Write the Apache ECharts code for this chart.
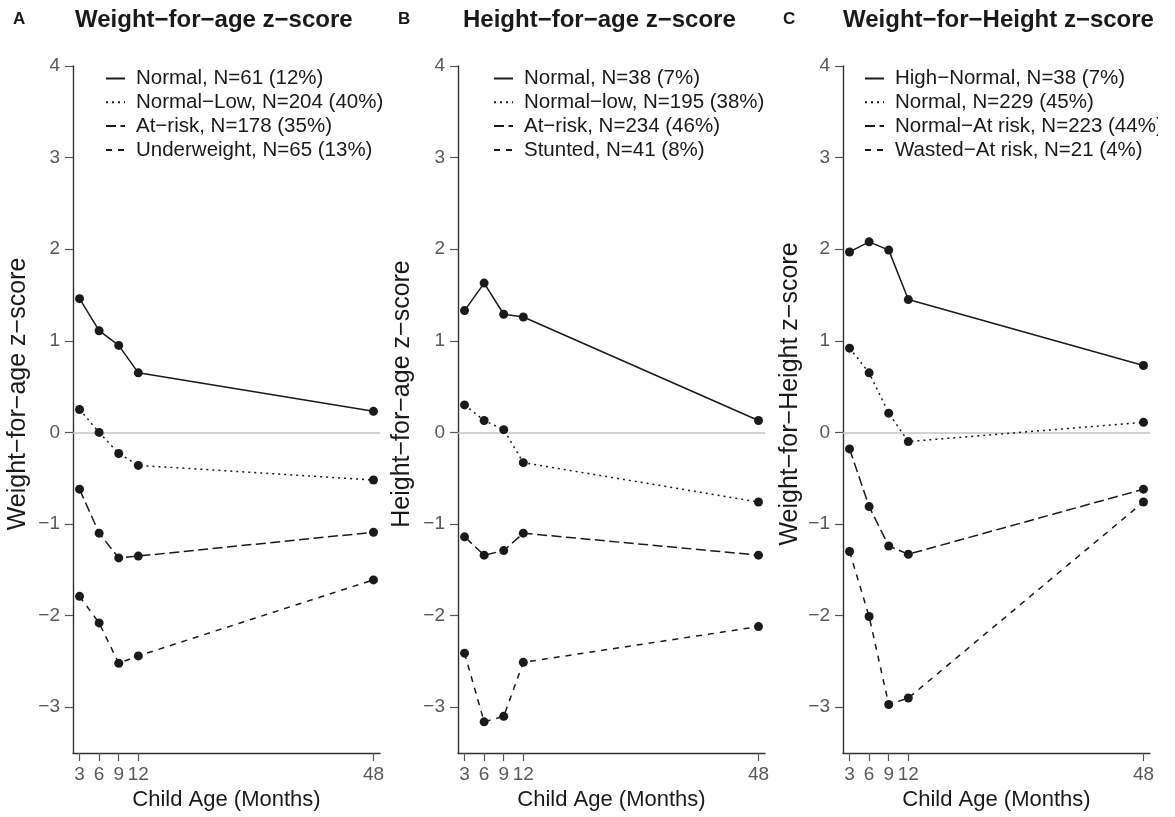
<!DOCTYPE html>
<html>
<head>
<meta charset="utf-8">
<script src="https://cdn.jsdelivr.net/npm/echarts@6/dist/echarts.min.js"></script>
<style>
html,body{margin:0;padding:0;background:#fff;}
#c{width:1158px;height:817px;}
</style>
</head>
<body>
<div id="c"></div>
<script>
// ---- data ----
const months = [3, 6, 9, 12, 48];
const xTicks = [3, 6, 9, 12, 48];
const yTicks = [-3, -2, -1, 0, 1, 2, 3, 4];

const panelLetters = ['A', 'B', 'C'];
const panelTitles = ['Weight\u2212for\u2212age z\u2212score', 'Height\u2212for\u2212age z\u2212score', 'Weight\u2212for\u2212Height z\u2212score'];
const yTitles = ['Weight\u2212for\u2212age z\u2212score', 'Height\u2212for\u2212age z\u2212score', 'Weight\u2212for\u2212Height z\u2212score'];
const xTitle = 'Child Age (Months)';

const namesA = ['Normal, N=61 (12%)', 'Normal\u2212Low, N=204 (40%)', 'At\u2212risk, N=178 (35%)', 'Underweight, N=65 (13%)'];
const namesB = ['Normal, N=38 (7%)', 'Normal\u2212low, N=195 (38%)', 'At\u2212risk, N=234 (46%)', 'Stunted, N=41 (8%)'];
const namesC = ['High\u2212Normal, N=38 (7%)', 'Normal, N=229 (45%)', 'Normal\u2212At risk, N=223 (44%)', 'Wasted\u2212At risk, N=21 (4%)'];

const wazNormal    = [1.46, 1.11, 0.95, 0.65, 0.23];
const wazNormalLow = [0.25, 0.00, -0.23, -0.36, -0.52];
const wazAtRisk    = [-0.62, -1.10, -1.37, -1.35, -1.09];
const wazUnder     = [-1.79, -2.08, -2.52, -2.44, -1.61];

const hazNormal    = [1.33, 1.63, 1.29, 1.26, 0.13];
const hazNormalLow = [0.30, 0.13, 0.03, -0.33, -0.76];
const hazAtRisk    = [-1.14, -1.34, -1.29, -1.10, -1.34];
const hazStunted   = [-2.41, -3.16, -3.10, -2.51, -2.12];

const whzHighNormal = [1.97, 2.08, 1.99, 1.45, 0.73];
const whzNormal     = [0.92, 0.65, 0.21, -0.10, 0.11];
const whzNormalAt   = [-0.18, -0.81, -1.24, -1.33, -0.62];
const whzWasted     = [-1.30, -2.01, -2.97, -2.90, -0.76];

const panelNames = [namesA, namesB, namesC];
const panelData = [
  [wazNormal, wazNormalLow, wazAtRisk, wazUnder],
  [hazNormal, hazNormalLow, hazAtRisk, hazStunted],
  [whzHighNormal, whzNormal, whzNormalAt, whzWasted]
];

// ---- styles ----
const FONT = '"Liberation Sans", Arial, Helvetica, sans-serif';
const INK = '#1a1a1a';
const dashes = ['solid', [2, 4], [10, 4.5], [6, 6]];
const gridLefts = [73, 458, 843];
const gridTop = 66, gridH = 687, gridW = 307;
const legendLefts = [105, 493, 864];
const letterLefts = [13, 398, 783];
const titleLefts = [75, 463, 843];
const yTitleX = [18, 402, 790];

const grid = [], xAxis = [], yAxis = [], series = [], legend = [], title = [], graphic = [];

for (let p = 0; p < 3; p++) {
  grid.push({left: gridLefts[p], top: gridTop, width: gridW, height: gridH, containLabel: false});
  xAxis.push({
    type: 'value', gridIndex: p, min: 2, max: 49,
    name: xTitle, nameLocation: 'middle', nameGap: 35,
    nameTextStyle: {fontFamily: FONT, fontSize: 22, color: INK},
    axisLine: {show: true, onZero: false, lineStyle: {color: '#333', width: 1.4}},
    axisTick: {show: true, length: 8, customValues: xTicks, lineStyle: {color: '#555', width: 1.2}},
    axisLabel: {customValues: xTicks, margin: 12, fontFamily: FONT, fontSize: 19, color: '#595959', hideOverlap: false},
    splitLine: {show: false}
  });
  yAxis.push({
    type: 'value', gridIndex: p, min: -3.5, max: 4,
    axisLine: {show: true, onZero: false, lineStyle: {color: '#333', width: 1.4}},
    axisTick: {show: true, length: 8, customValues: yTicks, lineStyle: {color: '#555', width: 1.2}},
    axisLabel: {customValues: yTicks, margin: 13, fontFamily: FONT, fontSize: 19, color: '#595959',
      formatter: v => (v < 0 ? '\u2212' + Math.abs(v) : String(v))},
    splitLine: {show: false}
  });
  for (let s = 0; s < 4; s++) {
    const ser = {
      type: 'line', name: panelNames[p][s], xAxisIndex: p, yAxisIndex: p,
      data: months.map((m, i) => [m, panelData[p][s][i]]),
      symbol: 'circle', symbolSize: 9,
      itemStyle: {color: INK},
      lineStyle: {color: INK, width: 1.5, type: dashes[s], cap: 'butt'},
      emphasis: {disabled: true}, animation: false, z: 3
    };
    if (s === 0) {
      ser.markLine = {
        silent: true, symbol: ['none', 'none'], label: {show: false},
        lineStyle: {color: '#c4c4c4', width: 1.5, type: 'solid'},
        data: [{yAxis: 0}], animation: false, z: 1
      };
    }
    series.push(ser);
  }
  legend.push({
    data: panelNames[p], orient: 'vertical', left: legendLefts[p], top: 68, padding: 0,
    itemWidth: 19, itemHeight: 14, itemGap: 2.8,
    itemStyle: {opacity: 0},
    textStyle: {fontFamily: FONT, fontSize: 20.5, color: INK, padding: [0, 0, 0, 6]},
    selectedMode: false
  });
  title.push({text: panelLetters[p], left: letterLefts[p], top: 11, padding: 0,
    textStyle: {fontFamily: FONT, fontSize: 17, fontWeight: 'bold', color: INK}});
  title.push({text: panelTitles[p], left: titleLefts[p], top: 8, padding: 0,
    textStyle: {fontFamily: FONT, fontSize: 24, fontWeight: 'bold', color: INK}});
  graphic.push({type: 'text', x: yTitleX[p], y: 394, rotation: Math.PI / 2,
    style: {text: yTitles[p], font: '25px ' + FONT, fill: INK, textAlign: 'center', textVerticalAlign: 'middle'}});
}

const chart = echarts.init(document.getElementById('c'), null, {renderer: 'canvas'});
chart.setOption({
  animation: false, backgroundColor: '#fff',
  title, grid, xAxis, yAxis, series, legend, graphic
});
</script>
</body>
</html>
